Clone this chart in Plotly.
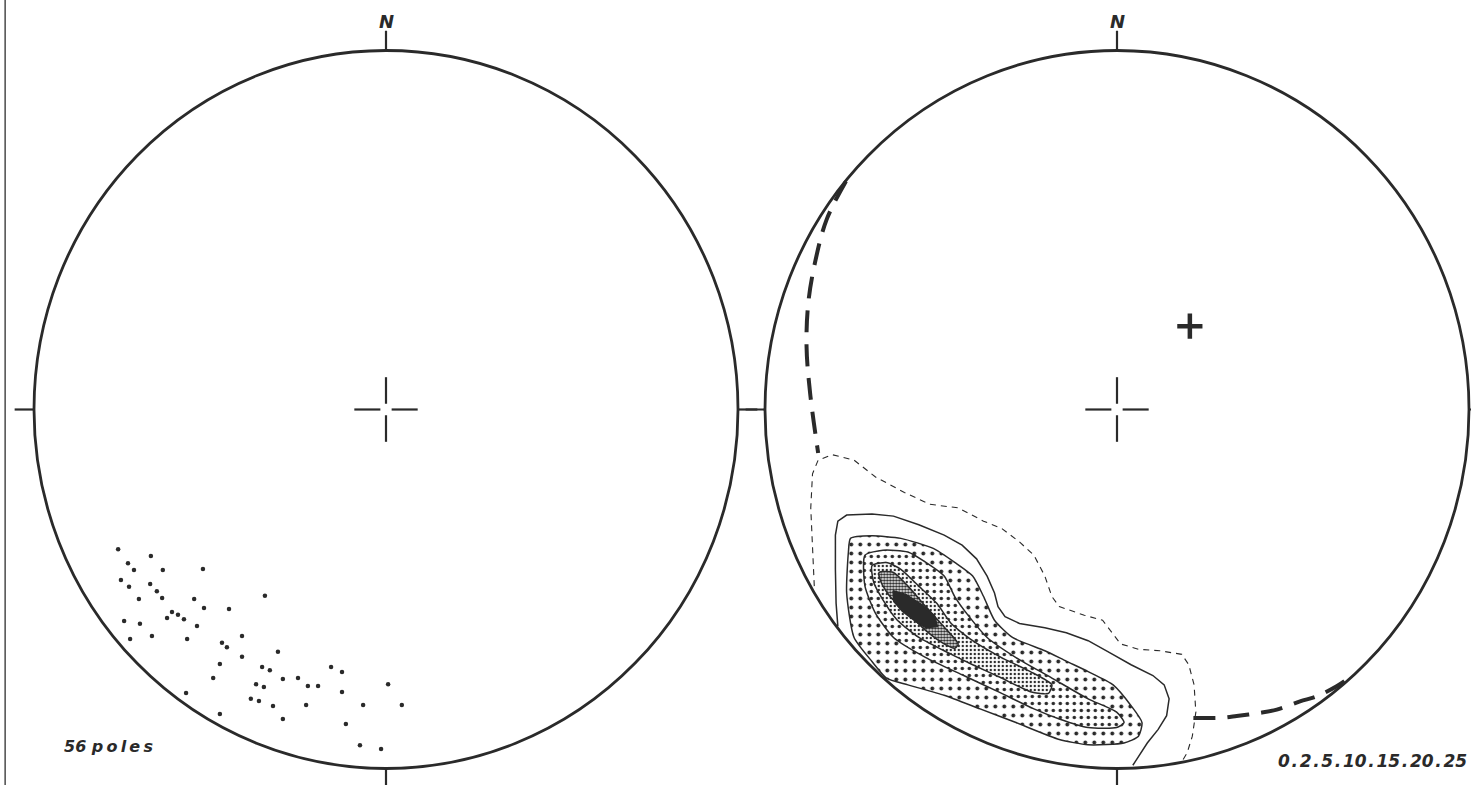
import plotly.graph_objects as go

# ---------------------------------------------------------------------------
# data, in stereonet units (east, north); the primitive circle has radius 1
# ---------------------------------------------------------------------------

# left net: 56 poles
pole_east = [-0.761, -0.668, -0.733, -0.716, -0.634, -0.520, -0.753, -0.670, -0.730, -0.651,
             -0.702, -0.636, -0.545, -0.344, -0.517, -0.446, -0.608, -0.591, -0.622, -0.574,
             -0.744, -0.699, -0.537, -0.665, -0.727, -0.565, -0.409, -0.466, -0.452, -0.307,
             -0.409, -0.472, -0.352, -0.330, -0.156, -0.125, -0.491, -0.293, -0.250, -0.369,
             -0.347, -0.222, -0.193, 0.006, -0.125, -0.568, -0.384, -0.361, -0.321, -0.227,
             -0.065, 0.045, -0.293, -0.114, -0.472, -0.074, -0.014]
pole_north = [-0.389, -0.408, -0.428, -0.447, -0.447, -0.444, -0.475, -0.486, -0.494, -0.506,
              -0.528, -0.525, -0.528, -0.519, -0.553, -0.556, -0.564, -0.572, -0.581, -0.584,
              -0.589, -0.597, -0.603, -0.631, -0.639, -0.639, -0.631, -0.650, -0.662, -0.675,
              -0.689, -0.709, -0.717, -0.726, -0.717, -0.731, -0.748, -0.751, -0.748, -0.765,
              -0.773, -0.770, -0.770, -0.765, -0.787, -0.790, -0.806, -0.812, -0.826, -0.823,
              -0.823, -0.823, -0.862, -0.876, -0.848, -0.935, -0.946]

# right net: density contours (percent per 1 % area)
contour_levels = ["0", "2", "5", "10", "15", "20", "25"]

# 0 % and 2 % lines are open: they start and end on the primitive
contour_0 = [(-0.860, -0.492), (-0.865, -0.369), (-0.870, -0.274), (-0.865, -0.179), (-0.849, -0.141),
             (-0.809, -0.126), (-0.747, -0.141), (-0.686, -0.188), (-0.604, -0.231), (-0.532, -0.264),
             (-0.451, -0.274), (-0.379, -0.311), (-0.328, -0.331), (-0.277, -0.369), (-0.236, -0.406),
             (-0.205, -0.464), (-0.185, -0.521), (-0.164, -0.549), (-0.093, -0.573), (-0.041, -0.587),
             (-0.011, -0.625), (0.010, -0.653), (0.061, -0.668), (0.122, -0.672), (0.184, -0.682),
             (0.204, -0.711), (0.219, -0.767), (0.224, -0.843), (0.214, -0.910), (0.199, -0.957),
             (0.184, -0.981)]
contour_2 = [(-0.793, -0.604), (-0.798, -0.540), (-0.800, -0.445), (-0.800, -0.350), (-0.793, -0.311),
             (-0.768, -0.294), (-0.696, -0.291), (-0.635, -0.297), (-0.563, -0.321), (-0.491, -0.350),
             (-0.440, -0.378), (-0.399, -0.416), (-0.369, -0.464), (-0.348, -0.511), (-0.338, -0.549),
             (-0.318, -0.577), (-0.277, -0.596), (-0.205, -0.608), (-0.144, -0.622), (-0.082, -0.644),
             (-0.021, -0.677), (0.040, -0.711), (0.102, -0.741), (0.134, -0.767), (0.148, -0.806),
             (0.141, -0.853), (0.117, -0.891), (0.086, -0.929), (0.061, -0.967), (0.045, -0.991)]
contour_5 = [(-0.757, -0.359), (-0.696, -0.352), (-0.614, -0.359), (-0.522, -0.387), (-0.461, -0.426),
             (-0.410, -0.464), (-0.379, -0.521), (-0.348, -0.587), (-0.297, -0.635), (-0.205, -0.672),
             (-0.144, -0.701), (-0.082, -0.730), (-0.011, -0.767), (0.040, -0.825), (0.071, -0.872),
             (0.061, -0.910), (0.020, -0.929), (-0.082, -0.934), (-0.164, -0.919), (-0.287, -0.872),
             (-0.389, -0.834), (-0.491, -0.796), (-0.594, -0.767), (-0.655, -0.748), (-0.696, -0.702),
             (-0.747, -0.635), (-0.768, -0.511), (-0.763, -0.397)]
contour_10 = [(-0.716, -0.406), (-0.665, -0.392), (-0.594, -0.397), (-0.543, -0.426), (-0.491, -0.464),
              (-0.461, -0.521), (-0.420, -0.577), (-0.369, -0.635), (-0.287, -0.691), (-0.185, -0.748),
              (-0.082, -0.806), (-0.001, -0.843), (0.020, -0.872), (-0.001, -0.886), (-0.082, -0.886),
              (-0.164, -0.862), (-0.236, -0.834), (-0.338, -0.786), (-0.440, -0.739), (-0.543, -0.691),
              (-0.635, -0.635), (-0.686, -0.568), (-0.716, -0.492)]
contour_15 = [(-0.696, -0.435), (-0.655, -0.426), (-0.614, -0.445), (-0.563, -0.492), (-0.512, -0.540),
              (-0.471, -0.596), (-0.410, -0.644), (-0.328, -0.691), (-0.246, -0.730), (-0.185, -0.767),
              (-0.195, -0.791), (-0.246, -0.786), (-0.328, -0.748), (-0.410, -0.711), (-0.491, -0.672),
              (-0.563, -0.635), (-0.624, -0.587), (-0.665, -0.530), (-0.691, -0.482)]
contour_20 = [(-0.676, -0.454), (-0.635, -0.454), (-0.594, -0.492), (-0.543, -0.549), (-0.491, -0.606),
              (-0.451, -0.653), (-0.461, -0.665), (-0.491, -0.653), (-0.543, -0.616), (-0.594, -0.568),
              (-0.645, -0.521), (-0.670, -0.482)]
contour_25 = [(-0.636, -0.505), (-0.600, -0.515), (-0.553, -0.545), (-0.518, -0.575), (-0.510, -0.605),
              (-0.543, -0.608), (-0.575, -0.588), (-0.610, -0.562), (-0.634, -0.535)]

# girdle (thick dashed), drawn only outside the 0 % contour
girdle_west = [(-0.770, 0.636), (-0.825, 0.529), (-0.858, 0.409), (-0.877, 0.297), (-0.882, 0.176),
               (-0.872, 0.047), (-0.849, -0.121)]
girdle_south = [(0.217, -0.859), (0.293, -0.859), (0.340, -0.854), (0.406, -0.845), (0.454, -0.836),
                (0.520, -0.813), (0.567, -0.799), (0.624, -0.771), (0.653, -0.752)]

# pole to the girdle
girdle_pole_east = [0.207]
girdle_pole_north = [0.232]

n_poles = 56

# ---------------------------------------------------------------------------
# page geometry (the scanned nets are slightly stretched vertically)
# ---------------------------------------------------------------------------
W, H = 1471, 785
SX, SY = 352, 359                 # px per unit radius
LEFT_C, RIGHT_C, CY = 386, 1117, 409.5
LEFT_DOM, RIGHT_DOM = [0, 0.53], [0.49, 1]

ink = "#2a2a2a"


def x_range(dom, cx):
    return [(dom[0] * W - cx) / SX, (dom[1] * W - cx) / SX]


y_range = [-(H - CY) / SY, CY / SY]


def split(pts, close=False):
    if close:
        pts = list(pts) + [pts[0]]
    return [p[0] for p in pts], [p[1] for p in pts]


fig = go.Figure()

# poles on the left net
fig.add_trace(go.Scatter(x=pole_east, y=pole_north, mode="markers",
                         marker=dict(size=4.5, color=ink),
                         xaxis="x", yaxis="y", hoverinfo="skip"))

# open contours
ex, ny = split(contour_0)
fig.add_trace(go.Scatter(x=ex, y=ny, mode="lines", line=dict(color=ink, width=1.1, dash="6px,5px"),
                         xaxis="x2", yaxis="y2", hoverinfo="skip"))
ex, ny = split(contour_2)
fig.add_trace(go.Scatter(x=ex, y=ny, mode="lines", line=dict(color=ink, width=1.5),
                         xaxis="x2", yaxis="y2", hoverinfo="skip"))

# stippled closed contours, outer to inner
stipple = [
    (contour_5, dict(shape=".", size=9, solidity=0.15)),
    (contour_10, dict(shape=".", size=7, solidity=0.2)),
    (contour_15, dict(shape=".", size=4, solidity=0.28)),
    (contour_20, dict(shape=".", size=3, solidity=0.55)),
]
for pts, pat in stipple:
    ex, ny = split(pts, close=True)
    fig.add_trace(go.Scatter(x=ex, y=ny, mode="lines", fill="toself",
                             fillpattern=dict(fgcolor=ink, bgcolor="white", fillmode="replace", **pat),
                             line=dict(color=ink, width=1.5, shape="spline", smoothing=0.6),
                             xaxis="x2", yaxis="y2", hoverinfo="skip"))
ex, ny = split(contour_25, close=True)
fig.add_trace(go.Scatter(x=ex, y=ny, mode="lines", fill="toself", fillcolor=ink,
                         line=dict(color=ink, width=1.5),
                         xaxis="x2", yaxis="y2", hoverinfo="skip"))

# girdle
for seg in (girdle_west, girdle_south):
    ex, ny = split(seg)
    fig.add_trace(go.Scatter(x=ex, y=ny, mode="lines",
                             line=dict(color=ink, width=4, dash="22px,12px", shape="spline"),
                             xaxis="x2", yaxis="y2", hoverinfo="skip"))
fig.add_trace(go.Scatter(x=girdle_pole_east, y=girdle_pole_north, mode="markers",
                         marker=dict(symbol="cross-thin", size=18, line=dict(color=ink, width=4.5)),
                         xaxis="x2", yaxis="y2", hoverinfo="skip"))

# primitive circles, N-E-S-W ticks and centre crosses
TICK = 0.055
GAP, ARM = 0.016, 0.09
shapes = []
for xr, yr in (("x", "y"), ("x2", "y2")):
    shapes.append(dict(type="circle", xref=xr, yref=yr, x0=-1, y0=-1, x1=1, y1=1,
                       line=dict(color=ink, width=2.8)))
    thin = dict(color=ink, width=2.2)
    for x0, y0, x1, y1 in ((0, 1, 0, 1 + TICK), (0, -1, 0, -1 - TICK),
                           (1, 0, 1 + TICK, 0), (-1, 0, -1 - TICK, 0),
                           (GAP, 0, ARM, 0), (-GAP, 0, -ARM, 0),
                           (0, GAP, 0, ARM), (0, -GAP, 0, -ARM)):
        shapes.append(dict(type="line", xref=xr, yref=yr, x0=x0, y0=y0, x1=x1, y1=y1, line=thin))
# scan frame edge on the far left
shapes.append(dict(type="line", xref="paper", yref="paper", x0=0.0035, x1=0.0035, y0=0, y1=1,
                   line=dict(color="#555555", width=1.6)))

lab = dict(family="DejaVu Sans", color=ink, size=18, style="italic", weight="bold")
thin_sp = "\u2009"
hair_sp = "\u200a"
annotations = [
    dict(text="N", xref="x", yref="y", x=0, y=1.082, showarrow=False, font=lab),
    dict(text="N", xref="x2", yref="y2", x=0, y=1.082, showarrow=False, font=lab),
    dict(text=f"{n_poles} " + thin_sp.join("poles"), xref="paper", yref="paper",
         x=62 / W, y=1 - 746 / H, xanchor="left", yanchor="middle", showarrow=False,
         font=dict(lab, size=16)),
    dict(text=f"{hair_sp}.{hair_sp}".join(contour_levels), xref="paper", yref="paper",
         x=1469 / W, y=1 - 761 / H, xanchor="right", yanchor="middle", showarrow=False,
         font=dict(lab, size=17)),
]

ax = dict(visible=False, showgrid=False, zeroline=False, fixedrange=True)
fig.update_layout(
    width=W, height=H, margin=dict(l=0, r=0, t=0, b=0, pad=0),
    paper_bgcolor="white", plot_bgcolor="rgba(0,0,0,0)", showlegend=False,
    xaxis=dict(ax, domain=LEFT_DOM, range=x_range(LEFT_DOM, LEFT_C)),
    yaxis=dict(ax, domain=[0, 1], range=y_range),
    xaxis2=dict(ax, domain=RIGHT_DOM, range=x_range(RIGHT_DOM, RIGHT_C)),
    yaxis2=dict(ax, domain=[0, 1], range=y_range),
    shapes=shapes, annotations=annotations,
)

fig.write_html("out.html", config={"displayModeBar": False},
               post_script="document.body.style.margin='0';")
